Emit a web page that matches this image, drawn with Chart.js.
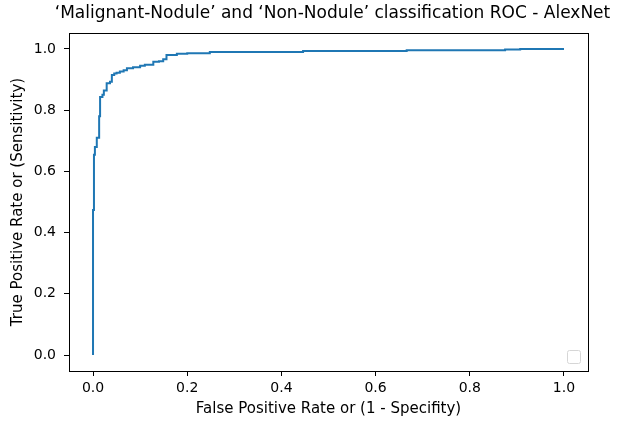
<!DOCTYPE html>
<html>
<head>
<meta charset="utf-8">
<script src="https://cdn.jsdelivr.net/npm/chart.js@4.4.1/dist/chart.umd.min.js"></script>
<style>
  html, body { margin: 0; padding: 0; background: #fff; }
  #wrap { width: 635px; height: 423px; }
</style>
</head>
<body>
<div id="wrap"><canvas id="roc"></canvas></div>
<script>
// ROC curve points (false positive rate / true positive rate)
const fpr = [0, 0, 0.002, 0.004, 0.008, 0.013, 0.015, 0.02, 0.023, 0.029, 0.036, 0.04, 0.045, 0.05, 0.057, 0.065, 0.072, 0.085, 0.1, 0.11, 0.128, 0.14, 0.149, 0.156, 0.178, 0.2, 0.248, 0.446, 0.666, 0.875, 0.907, 1.0];
const tpr = [0, 0.474, 0.654, 0.68, 0.71, 0.78, 0.843, 0.85, 0.864, 0.888, 0.893, 0.915, 0.92, 0.922, 0.926, 0.93, 0.937, 0.94, 0.945, 0.948, 0.958, 0.96, 0.966, 0.98, 0.984, 0.986, 0.99, 0.993, 0.996, 0.998, 1.0, 1.0];
const xTicks = [0.0, 0.2, 0.4, 0.6, 0.8, 1.0];
const yTicks = [0.0, 0.2, 0.4, 0.6, 0.8, 1.0];

const titleText = '\u2018Malignant-Nodule\u2019 and \u2018Non-Nodule\u2019 classification ROC - AlexNet';
const font = "'DejaVu Sans', sans-serif";

//draws the box round the plot, the title over the plot and the empty legend square
const framePlugin = {
    id: 'frame',
    afterDraw(chart) {
        const a = chart.chartArea, ctx = chart.ctx;
        ctx.save();
        ctx.strokeStyle = '#000';
        ctx.lineWidth = 1;
        ctx.strokeRect(Math.round(a.left) + 0.5, Math.round(a.top) + 0.5,
            Math.round(a.right - a.left), Math.round(a.bottom - a.top));
        // title roughly centred on the axes
        ctx.fillStyle = '#000';
        ctx.font = '17px ' + font;
        ctx.textAlign = 'center';
        ctx.textBaseline = 'middle';
        ctx.fillText(titleText, (a.left + a.right) / 2 + 4, 14);
        // empty legend
        ctx.strokeStyle = '#d6d6d6';
        ctx.beginPath();
        ctx.roundRect(a.right - 20.5, a.bottom - 20.5, 13, 13, 2);
        ctx.stroke();
        ctx.restore();
    }
};

const ctx = document.getElementById('roc').getContext('2d');
const myChart = new Chart(ctx, {
    type: 'line',
    data: {
        datasets: [{
            data: fpr.map((x, i) => ({ x: x, y: tpr[i] })),
            borderColor: '#1f77b4',
            borderWidth: 2,
            pointRadius: 0,
            stepped: 'before',
            fill: false
        }]
    },
    options: {
        responsive: true,
        maintainAspectRatio: false,
        animation: false,
        layout: { padding: { left: 0, right: 47, top: 33, bottom: 0 } },
        plugins: {
            legend: { display: false },
            tooltip: { enabled: false },
            title: { display: false }
        },
        scales: {
            x: {
                type: 'linear',
                min: -0.051,
                max: 1.051,
                afterBuildTicks: s => { s.ticks = xTicks.map(v => ({ value: v })); },
                afterFit: s => { s.height = 52; },
                border: { display: false },
                grid: { display: true, drawOnChartArea: false, drawTicks: true, tickLength: 5, tickColor: '#000' },
                ticks: {
                    color: '#000',
                    padding: 4,
                    maxRotation: 0,
                    font: { family: font, size: 14 },
                    callback: v => v.toFixed(1)
                },
                title: {
                    display: true,
                    text: 'False Positive Rate or (1 - Specifity)',
                    color: '#000',
                    font: { family: font, size: 15 },
                    padding: { top: 0, bottom: 5 }
                }
            },
            y: {
                type: 'linear',
                min: -0.052,
                max: 1.052,
                afterBuildTicks: s => { s.ticks = yTicks.map(v => ({ value: v })); },
                afterFit: s => { s.width = 69; },
                border: { display: false },
                grid: { display: true, drawOnChartArea: false, drawTicks: true, tickLength: 5, tickColor: '#000' },
                ticks: {
                    color: '#000',
                    padding: 8,
                    font: { family: font, size: 14 },
                    callback: v => v.toFixed(1)
                },
                title: {
                    display: true,
                    text: 'True Positive Rate or (Sensitivity)',
                    color: '#000',
                    font: { family: font, size: 15 },
                    padding: { top: 9, bottom: 0 }
                }
            }
        }
    },
    plugins: [framePlugin]
});
</script>
</body>
</html>
